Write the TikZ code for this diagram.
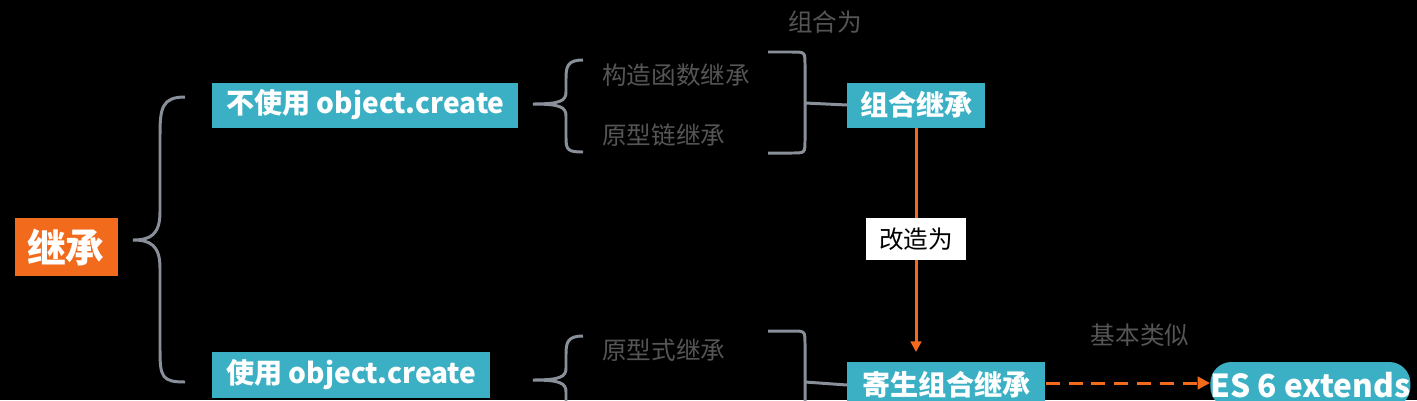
\documentclass[tikz,border=0pt]{standalone}
\usepackage{fontspec}
\setmainfont{Noto Sans CJK SC}
\usetikzlibrary{arrows.meta,positioning}
\definecolor{boxteal}{HTML}{3BB0C4}
\definecolor{orng}{HTML}{F26B1D}
\definecolor{brgray}{HTML}{8A909A}
\definecolor{txgray}{HTML}{555555}
\tikzset{
  box/.style={fill=boxteal, text=white, font=\bfseries\fontsize{16}{18}\selectfont, inner sep=0pt, anchor=west},
  note/.style={text=txgray, font=\fontsize{14}{16}\selectfont, anchor=west},
  brace/.style={draw=brgray, line width=1.7pt},
}
\begin{document}
\begin{tikzpicture}[x=0.02cm, y=-0.02cm]
    % background and frame
    \fill[black] (0,0) rectangle (1417,400);
    \useasboundingbox (0,0) rectangle (1417,400);

    % --- root ---
    \node[box, fill=orng, minimum width=103*0.02cm, minimum height=58*0.02cm, anchor=center,
          font=\bfseries\fontsize{22}{24}\selectfont] (root) at (66,247) {继承};

    % --- left brace ---
    \draw[brace] (185,97) .. controls (162,97) and (160,108) .. (160,135) -- (160,212)
        .. controls (160,235) and (150,240) .. (133,240)
        .. controls (150,240) and (160,245) .. (160,268) -- (160,350)
        .. controls (160,377) and (162,382) .. (185,382);

    % --- first branch ---
    \node[box, minimum width=306*0.02cm, minimum height=45*0.02cm] (nocreate) at (212,105) {不使用 object.create};
    \draw[brace] (583,60) .. controls (568,60) and (566,66) .. (566,78) -- (566,92)
        .. controls (566,101) and (560,104) .. (533,104)
        .. controls (560,104) and (566,107) .. (566,116) -- (566,138)
        .. controls (566,150) and (568,152) .. (583,152);
    \node[note] (ctor) at (596,75) {构造函数继承};
    \node[note] (proto) at (596,135) {原型链继承};
    \draw[brace] (768,52) -- (792,52) .. controls (805,52) .. (805,65) -- (805,140)
        .. controls (805,153) .. (792,153) -- (768,153);
    \node[box, minimum width=138*0.02cm, minimum height=45*0.02cm] (combo) at (847,105) {组合继承};
    \draw[brace] (805,103) -- (combo.west);
    \node[note, anchor=center] (combolbl) at (825,22) {组合为};

    % --- second branch ---
    \node[box, minimum width=278*0.02cm, minimum height=46*0.02cm] (usecreate) at (212,375) {使用 object.create};
    \draw[brace] (583,336) .. controls (568,336) and (566,342) .. (566,354) -- (566,368)
        .. controls (566,377) and (560,380) .. (533,380)
        .. controls (560,380) and (566,383) .. (566,392) -- (566,414)
        .. controls (566,426) and (568,428) .. (583,428);
    \node[note] (protoform) at (596,350) {原型式继承};
    \draw[brace] (768,331) -- (792,331) .. controls (805,331) .. (805,344) -- (805,420);
    \node[box, minimum width=198*0.02cm, minimum height=46*0.02cm] (parasite) at (847,385) {寄生组合继承};
    \draw[brace] (805,382) -- (parasite.west);

    % --- combo -> parasite ---
    \draw[orng, line width=1.7pt, -{Triangle[length=6pt,width=6pt]}] (combo.south -| 916,0) -- (916,352);
    \node[fill=white, text=black, font=\fontsize{14}{16}\selectfont, minimum width=100*0.02cm,
          minimum height=42*0.02cm, inner sep=0pt] (rework) at (916,239) {改造为};

    % --- ES6 ---
    \node[box, rounded corners=12pt, minimum width=200*0.02cm, minimum height=46*0.02cm,
          font=\bfseries\fontsize{18}{20}\selectfont] (es6) at (1210,385) {ES 6 extends};
    \draw[orng, line width=1.7pt, dash pattern=on 8pt off 5pt, -{Triangle[length=7pt,width=7pt]}]
        (parasite.east |- 0,383) -- (es6.west |- 0,383);
    \node[note, anchor=center] (similar) at (1140,335) {基本类似};
\end{tikzpicture}
\end{document}
